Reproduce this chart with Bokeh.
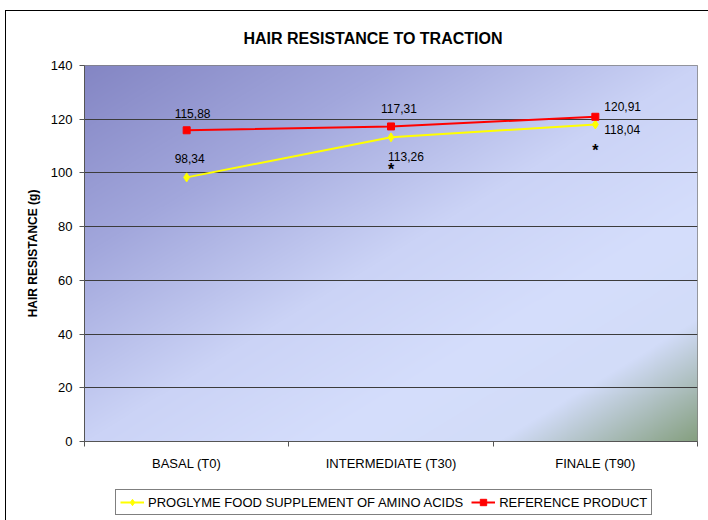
import numpy as np
from bokeh.plotting import figure
from bokeh.layouts import column
from bokeh.models import Range1d, FixedTicker, ColumnDataSource, Legend, LegendItem
from bokeh.core.properties import value
from bokeh.embed import file_html
from bokeh.resources import INLINE

# ---------------- data ----------------
categories = ["BASAL (T0)", "INTERMEDIATE (T30)", "FINALE (T90)"]
proglyme = [98.34, 113.26, 118.04]
reference = [115.88, 117.31, 120.91]
significance = ["", "*", "*"]
series_names = ["PROGLYME FOOD SUPPLEMENT OF AMINO ACIDS", "REFERENCE PRODUCT"]
y_ticks = [0, 20, 40, 60, 80, 100, 120, 140]
title_text = "HAIR RESISTANCE TO TRACTION"
y_label = "HAIR RESISTANCE (g)"

# ---------------- styling / label placement ----------------
FONT = "Liberation Sans"
YELLOW = "#ffff00"
RED = "#ff0000"
prog_lbl_dx = [-12, -3, 9]
prog_lbl_dy = [-19, 19, 5]
ref_lbl_dx = [-12, -10, 9]
ref_lbl_dy = [-17, -18, -10]
ast_dy = [0, 32, 26]

n = len(categories)
xs = np.arange(n) + 0.5


def fmt(v):
    return f"{v:.2f}".replace(".", ",")


p = figure(width=708, height=480,
           x_range=Range1d(0, n), y_range=Range1d(y_ticks[0], y_ticks[-1]),
           output_backend="svg", toolbar_location=None,
           min_border_left=84, min_border_right=11, min_border_top=65, min_border_bottom=39,
           background_fill_color="white", border_fill_color="white", border_fill_alpha=0,
           outline_line_color="#808080", outline_line_width=1)

# title
p.title.text = title_text
p.title.text_font = FONT
p.title.text_font_size = "16px"
p.title.text_font_style = "bold"
p.title.text_color = "black"
p.title.align = "left"
p.title.offset = 159
p.title.standoff = 37

# background gradient (plot area)
W, H = 620, 380
u = np.linspace(0, 1, W)[None, :]
v_top = 1 - np.linspace(0, 1, H)[:, None]   # row 0 is bottom
t = (u + v_top) / 2.0
stops = [0.0, 0.25, 0.5, 0.7, 0.84, 1.0]
cols = np.array([[132, 134, 196], [162, 167, 220], [203, 211, 246],
                 [213, 222, 252], [210, 220, 248], [134, 160, 128]], dtype=float)
rgb = np.stack([np.interp(t, stops, cols[:, k]) for k in range(3)], axis=-1)
img = np.empty((H, W), dtype=np.uint32)
view = img.view(dtype=np.uint8).reshape((H, W, 4))
view[:, :, 0] = rgb[:, :, 0].astype(np.uint8)
view[:, :, 1] = rgb[:, :, 1].astype(np.uint8)
view[:, :, 2] = rgb[:, :, 2].astype(np.uint8)
view[:, :, 3] = 255
p.image_rgba(image=[img], x=0, y=y_ticks[0], dw=n, dh=y_ticks[-1] - y_ticks[0], level="image")

# axes
p.yaxis.ticker = FixedTicker(ticks=y_ticks)
p.yaxis.major_tick_out = 5
p.yaxis.major_tick_in = 0
p.yaxis.minor_tick_out = 0
p.yaxis.minor_tick_in = 0
p.yaxis.major_label_standoff = 7
p.yaxis.axis_line_color = "#555555"
p.yaxis.major_tick_line_color = "#555555"
p.yaxis.major_label_text_font = FONT
p.yaxis.major_label_text_font_size = "13px"
p.yaxis.major_label_text_color = "black"
p.yaxis.axis_label = y_label
p.yaxis.axis_label_text_font = FONT
p.yaxis.axis_label_text_font_size = "12px"
p.yaxis.axis_label_text_font_style = "bold"
p.yaxis.axis_label_text_color = "black"
p.yaxis.axis_label_standoff = 8

p.xaxis.ticker = FixedTicker(ticks=list(xs), minor_ticks=list(range(n + 1)))
p.xaxis.major_label_overrides = {float(x): c for x, c in zip(xs, categories)}
p.xaxis.major_tick_out = 0
p.xaxis.major_tick_in = 0
p.xaxis.minor_tick_out = 5
p.xaxis.minor_tick_in = 0
p.xaxis.major_label_standoff = 9
p.xaxis.axis_line_color = "#555555"
p.xaxis.minor_tick_line_color = "#555555"
p.xaxis.major_label_text_font = FONT
p.xaxis.major_label_text_font_size = "13px"
p.xaxis.major_label_text_color = "black"

p.xgrid.visible = False
p.ygrid.ticker = FixedTicker(ticks=y_ticks[1:-1])
p.ygrid.grid_line_color = "#3c3c3c"
p.ygrid.grid_line_width = 1

# series
yl = p.line(xs, proglyme, line_color=YELLOW, line_width=2)
ys = p.scatter(xs, proglyme, marker="diamond", size=9, fill_color=YELLOW, line_color=YELLOW)
rl = p.line(xs, reference, line_color=RED, line_width=2)
rs = p.scatter(xs, reference, marker="square", size=7, fill_color=RED, line_color=RED)

# value labels
src_p = ColumnDataSource(dict(x=xs, y=proglyme, t=[fmt(v) for v in proglyme],
                              dx=prog_lbl_dx, dy=prog_lbl_dy))
src_r = ColumnDataSource(dict(x=xs, y=reference, t=[fmt(v) for v in reference],
                              dx=ref_lbl_dx, dy=ref_lbl_dy))
for src in (src_p, src_r):
    p.text(x="x", y="y", text="t", x_offset="dx", y_offset="dy", source=src,
           text_font=value(FONT), text_font_size="12px", text_color="black",
           text_align="left", text_baseline="middle")

src_a = ColumnDataSource(dict(x=xs, y=proglyme, t=significance, dy=ast_dy))
p.text(x="x", y="y", text="t", y_offset="dy", source=src_a,
       text_font=value(FONT), text_font_size="16px", text_font_style="bold",
       text_color="black", text_align="center", text_baseline="middle")

# legend strip (separate small figure below the chart; its ranges keep the
# series themselves out of view so only the legend shows)
lg = figure(width=708, height=40, x_range=Range1d(0, 0.1), y_range=Range1d(0, 1),
            output_backend="svg", toolbar_location=None,
            x_axis_location=None, y_axis_location=None, min_border=0,
            background_fill_alpha=0, border_fill_alpha=0,
            outline_line_color=None)
lg.grid.visible = False
lyl = lg.line(xs, proglyme, line_color=YELLOW, line_width=2)
lys = lg.scatter(xs, proglyme, marker="diamond", size=9, fill_color=YELLOW, line_color=YELLOW)
lrl = lg.line(xs, reference, line_color=RED, line_width=2)
lrs = lg.scatter(xs, reference, marker="square", size=7, fill_color=RED, line_color=RED)

legend = Legend(items=[LegendItem(label=series_names[0], renderers=[lyl, lys]),
                       LegendItem(label=series_names[1], renderers=[lrl, lrs])],
                orientation="horizontal", location=(31, 5))
legend.label_text_font = FONT
legend.label_text_font_size = "13px"
legend.label_text_color = "black"
legend.glyph_width = 24
legend.glyph_height = 16
legend.label_height = 16
legend.label_standoff = 4
legend.spacing = 8
legend.padding = 4
legend.margin = 0
legend.border_line_color = "black"
legend.border_line_width = 1
legend.background_fill_color = "white"
legend.background_fill_alpha = 1
lg.add_layout(legend, "center")

layout = column(p, lg, spacing=0)
layout.styles = {"box-shadow": "inset 5px 10px 0 0 #ffffff, inset 6px 11px 0 0 #000000"}
open("out.html", "w").write(file_html(layout, INLINE))
